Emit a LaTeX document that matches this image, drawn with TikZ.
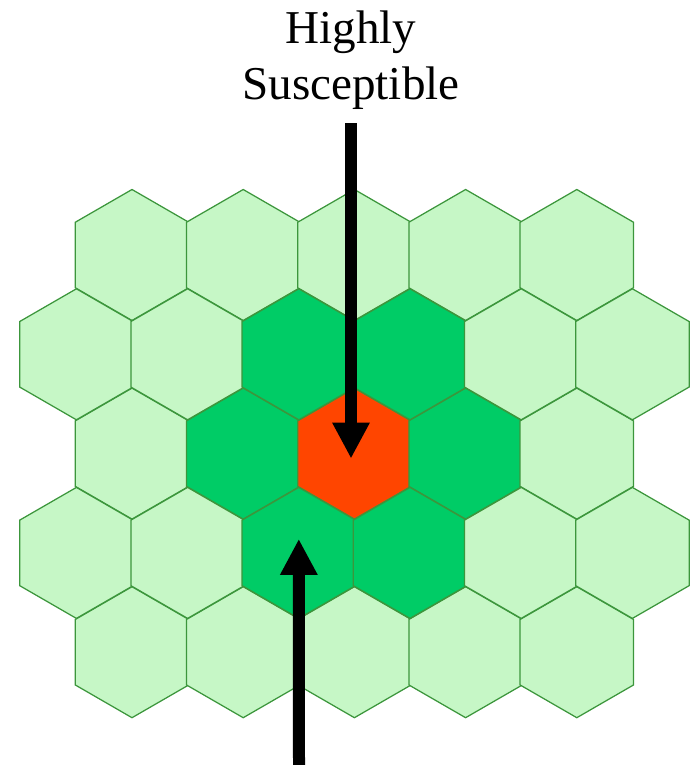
\documentclass[tikz,border=0pt]{standalone}
\usepackage{fontspec}
\setmainfont{Liberation Serif}
\usepackage{xcolor}
\usepackage{tikz}
\usetikzlibrary{shapes.geometric, arrows.meta}
\definecolor{palegreen}{RGB}{198,247,198}
\definecolor{midgreen}{RGB}{0,204,102}
\definecolor{hotred}{RGB}{255,69,0}
\definecolor{edgegreen}{RGB}{60,150,60}
\begin{document}
\begin{tikzpicture}[x=0.2mm, y=-0.2mm,
    hexcell/.style={regular polygon, regular polygon sides=6, shape border rotate=30, minimum size=26.2mm, inner sep=0pt, draw=edgegreen, line width=0.25mm, fill=palegreen},
    ringcell/.style={fill=midgreen},
    hotcell/.style={fill=hotred},
    c12/.style={ringcell}, c13/.style={ringcell},
    c21/.style={ringcell}, c23/.style={ringcell},
    c32/.style={ringcell}, c33/.style={ringcell},
    c22/.style={hotcell},
    bigarrow/.style={draw, line width=2.4mm, -{Triangle[length=7.2mm, width=7mm]}}]

    \useasboundingbox (0,0) rectangle (694,765);

    \foreach \r in {0,2,4}
        \foreach \k in {0,...,4}
            \node [hexcell, c\r\k/.try] (h\r\k) at ({132+111.2*\k}, {255+99.3*\r}) {};
    \foreach \r in {1,3}
        \foreach \k in {0,...,5}
            \node [hexcell, c\r\k/.try] (h\r\k) at ({76.4+111.2*\k}, {255+99.3*\r}) {};

    \node [font=\fontsize{26.8}{32.3}\selectfont, align=center, inner sep=0pt, anchor=base] (lbl) at (351,100) {Highly\\Susceptible};
    \coordinate (low) at (299,765);

    \path [bigarrow] ([yshift=-2.6mm]lbl.south) -- ([yshift=-1mm]lbl.south |- h22);
    \path [bigarrow] (low) -- ([yshift=2.8mm]h32.center);
\end{tikzpicture}
\end{document}
